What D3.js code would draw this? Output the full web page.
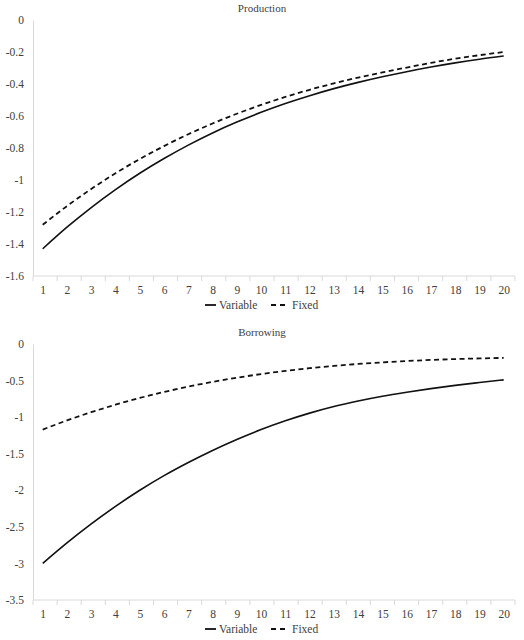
<!DOCTYPE html>
<html>
<head>
<meta charset="utf-8">
<script src="https://cdn.jsdelivr.net/npm/d3@7"></script>
<style>
  body { margin: 0; background: #fff; }
  svg text { font-family: "Liberation Serif", "DejaVu Serif", serif; fill: #404040; }
</style>
</head>
<body>
<svg id="chart" width="524" height="640"></svg>
<script>
const periods = d3.range(1, 21);

const prodVariable = [-1.43, -1.295, -1.172, -1.06, -0.958, -0.866, -0.782, -0.706, -0.638, -0.577,
  -0.522, -0.473, -0.429, -0.39, -0.355, -0.323, -0.294, -0.268, -0.245, -0.225];
const prodFixed = [-1.28, -1.163, -1.056, -0.958, -0.869, -0.788, -0.714, -0.647, -0.586, -0.531,
  -0.481, -0.436, -0.396, -0.36, -0.328, -0.297, -0.268, -0.242, -0.22, -0.2];

const borVariable = [-3.0, -2.72, -2.46, -2.22, -2.0, -1.8, -1.62, -1.455, -1.305, -1.17,
  -1.05, -0.945, -0.855, -0.78, -0.715, -0.66, -0.61, -0.566, -0.527, -0.49];
const borFixed = [-1.17, -1.045, -0.932, -0.83, -0.738, -0.656, -0.583, -0.518, -0.461, -0.411,
  -0.368, -0.331, -0.3, -0.273, -0.251, -0.233, -0.218, -0.206, -0.197, -0.19];

const prodTicks = [0, -0.2, -0.4, -0.6, -0.8, -1, -1.2, -1.4, -1.6];
const borTicks = [0, -0.5, -1, -1.5, -2, -2.5, -3, -3.5];

const svg = d3.select('#chart');

function drawPanel(title, top, bottom, yMin, ticks, variable, fixed) {
  const g = svg.append('g');

  const xBand = d3.scaleBand().domain(periods).range([33, 515]);
  const x = d3.scalePoint().domain(periods).range([42.7, 503.7]);
  const y = d3.scaleLinear().domain([yMin, 0]).range([bottom, top]);

  // title
  g.append('text')
    .attr('x', 262).attr('y', top - 8)
    .attr('text-anchor', 'middle')
    .attr('font-size', 11)
    .text(title);

  // y axis
  const yAxis = g.append('g')
    .attr('transform', 'translate(33,0)')
    .call(d3.axisLeft(y).tickValues(ticks).tickSize(0).tickPadding(9).tickFormat(d => String(d)));
  yAxis.select('.domain').attr('stroke', '#d9d9d9');
  yAxis.selectAll('text').attr('font-size', 11.5);

  // x axis labels
  const xAxis = g.append('g')
    .attr('transform', `translate(0,${bottom})`)
    .call(d3.axisBottom(x).tickSize(0).tickPadding(10));
  xAxis.select('.domain').remove();
  xAxis.selectAll('text').attr('font-size', 11.5);

  // x axis line and band tick marks
  g.append('line')
    .attr('x1', xBand.range()[0]).attr('x2', xBand.range()[1])
    .attr('y1', bottom).attr('y2', bottom)
    .attr('stroke', '#d9d9d9');
  const bounds = periods.map(p => xBand(p)).concat([xBand.range()[1]]);
  g.selectAll('.xtick').data(bounds).join('line')
    .attr('class', 'xtick')
    .attr('x1', d => d).attr('x2', d => d)
    .attr('y1', bottom).attr('y2', bottom + 5)
    .attr('stroke', '#d9d9d9');

  const line = d3.line()
    .x((d, i) => x(periods[i]))
    .y(d => y(d))
    .curve(d3.curveMonotoneX);

  g.append('path')
    .attr('d', line(variable))
    .attr('fill', 'none')
    .attr('stroke', '#111')
    .attr('stroke-width', 1.6);

  g.append('path')
    .attr('d', line(fixed))
    .attr('fill', 'none')
    .attr('stroke', '#111')
    .attr('stroke-width', 1.8)
    .attr('stroke-dasharray', '5,3.5');

  // legend
  const ly = bottom + 29;
  g.append('line')
    .attr('x1', 205).attr('x2', 216).attr('y1', ly).attr('y2', ly)
    .attr('stroke', '#111').attr('stroke-width', 1.8);
  g.append('text')
    .attr('x', 219).attr('y', ly).attr('dy', '0.35em')
    .attr('font-size', 11.5).text('Variable');
  g.append('line')
    .attr('x1', 271).attr('x2', 287).attr('y1', ly).attr('y2', ly)
    .attr('stroke', '#111').attr('stroke-width', 1.8)
    .attr('stroke-dasharray', '5,4');
  g.append('text')
    .attr('x', 292).attr('y', ly).attr('dy', '0.35em')
    .attr('font-size', 11.5).text('Fixed');
}

drawPanel('Production', 20, 276, -1.6, prodTicks, prodVariable, prodFixed);
drawPanel('Borrowing', 344, 600, -3.5, borTicks, borVariable, borFixed);
</script>
</body>
</html>
